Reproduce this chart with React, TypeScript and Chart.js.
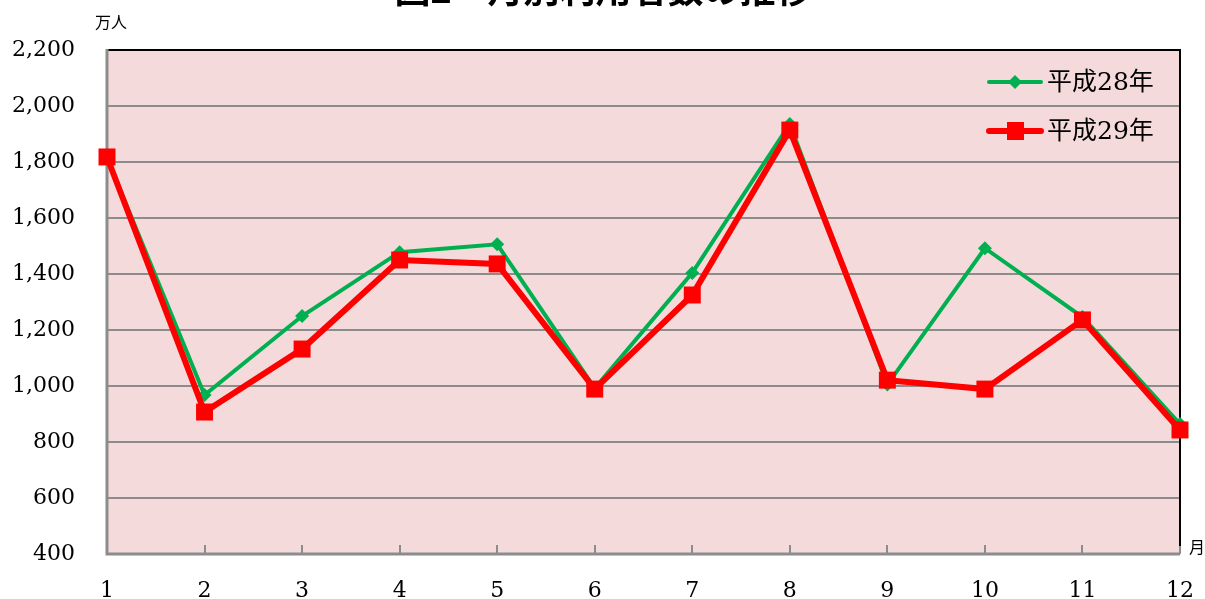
import React, { useEffect, useRef } from "react";
import { Chart, registerables } from "chart.js";

Chart.register(...registerables);

const months = ["1", "2", "3", "4", "5", "6", "7", "8", "9", "10", "11", "12"];
const seriesH28 = [1815, 968, 1250, 1478, 1506, 992, 1404, 1936, 1005, 1492, 1246, 864];
const seriesH29 = [1818, 907, 1132, 1450, 1436, 989, 1325, 1914, 1021, 989, 1236, 843];
const seriesNames = ["平成28年", "平成29年"];
const titleText = "図2　月別利用者数の推移";
const yUnit = "万人";
const xUnit = "月";

const GREEN = "#00B050";
const RED = "#FF0000";
const PINK = "#F5DADB";
const GRID = "#8C8C8C";
const SERIF = "'DejaVu Serif', 'Noto Sans CJK JP', serif";

const decorPlugin = {
  id: "decor",
  beforeDraw(chart: any) {
    const { ctx, chartArea: a } = chart;
    ctx.save();
    ctx.fillStyle = PINK;
    ctx.fillRect(a.left, a.top, a.right - a.left, a.bottom - a.top);
    ctx.restore();
  },
  beforeDatasetsDraw(chart: any) {
    const { ctx, chartArea: a, scales } = chart;
    ctx.save();
    ctx.strokeStyle = GRID;
    ctx.lineWidth = 2;
    const xs = scales.x;
    for (let i = 0; i < months.length; i++) {
      const x = Math.round(xs.getPixelForValue(i));
      ctx.beginPath();
      ctx.moveTo(x, a.bottom);
      ctx.lineTo(x, a.bottom - 9);
      ctx.stroke();
    }
    ctx.strokeStyle = "#000";
    ctx.lineWidth = 2;
    ctx.beginPath();
    ctx.moveTo(a.left, a.top);
    ctx.lineTo(a.right, a.top);
    ctx.lineTo(a.right, a.bottom - 8);
    ctx.stroke();
    ctx.strokeStyle = GRID;
    ctx.lineWidth = 3;
    ctx.beginPath();
    ctx.moveTo(a.left, a.top - 1);
    ctx.lineTo(a.left, a.bottom);
    ctx.lineTo(a.right, a.bottom);
    ctx.stroke();
    ctx.restore();
  },
  afterDraw(chart: any) {
    const { ctx } = chart;
    ctx.save();
    ctx.fillStyle = "#000";
    ctx.font = "bold 36px 'Noto Sans CJK JP', sans-serif";
    ctx.textAlign = "center";
    ctx.textBaseline = "alphabetic";
    ctx.fillText(titleText, 603, 3);
    ctx.font = "16px 'Noto Sans CJK JP', sans-serif";
    ctx.textAlign = "left";
    ctx.textBaseline = "middle";
    ctx.fillText(yUnit, 95, 22);
    ctx.fillText(xUnit, 1189, 547);
    const items = [
      { name: seriesNames[0], color: GREEN, lw: 4, y: 82, style: "diamond" },
      { name: seriesNames[1], color: RED, lw: 6, y: 131, style: "square" },
    ];
    for (const it of items) {
      ctx.strokeStyle = it.color;
      ctx.fillStyle = it.color;
      ctx.lineWidth = it.lw;
      ctx.lineCap = "round";
      ctx.beginPath();
      ctx.moveTo(989, it.y);
      ctx.lineTo(1041, it.y);
      ctx.stroke();
      if (it.style === "diamond") {
        ctx.beginPath();
        ctx.moveTo(1015, it.y - 7);
        ctx.lineTo(1022, it.y);
        ctx.lineTo(1015, it.y + 7);
        ctx.lineTo(1008, it.y);
        ctx.closePath();
        ctx.fill();
      } else {
        ctx.fillRect(1007, it.y - 9, 17, 18);
      }
      ctx.fillStyle = "#000";
      ctx.font = "25px " + SERIF;
      ctx.textAlign = "left";
      ctx.textBaseline = "middle";
      ctx.fillText(it.name, 1047, it.y + 1);
    }
    ctx.restore();
  },
};

export default function App() {
  const ref = useRef<HTMLCanvasElement>(null);
  useEffect(() => {
    if (!ref.current) return;
    const chart = new Chart(ref.current, {
      type: "line",
      data: {
        labels: months,
        datasets: [
          {
            label: seriesNames[0],
            data: seriesH28,
            borderColor: GREEN,
            backgroundColor: GREEN,
            borderWidth: 4,
            pointStyle: "rectRot",
            pointRadius: 7,
            pointBorderWidth: 0,
            tension: 0,
            order: 1,
            clip: false as any,
          },
          {
            label: seriesNames[1],
            data: seriesH29,
            borderColor: RED,
            backgroundColor: RED,
            borderWidth: 6,
            pointStyle: "rect",
            pointRadius: 12,
            pointBorderWidth: 0,
            tension: 0,
            order: 0,
            clip: false as any,
          },
        ],
      },
      options: {
        responsive: false,
        animation: false,
        layout: { padding: { left: 0, top: 50, right: 25, bottom: 0 } },
        plugins: {
          legend: { display: false },
          tooltip: { enabled: false },
          title: { display: false },
        },
        scales: {
          x: {
            type: "category",
            offset: false,
            grid: { display: false, drawTicks: false },
            border: { display: false },
            ticks: {
              color: "#000",
              padding: 24,
              maxRotation: 0,
              autoSkip: false,
              font: { family: SERIF, size: 22 },
            },
            afterFit(scale: any) {
              scale.height = 45;
              scale.paddingLeft = 0;
              scale.paddingRight = 0;
            },
          },
          y: {
            min: 400,
            max: 2200,
            grid: { color: GRID, lineWidth: 2, drawTicks: false },
            border: { display: false },
            ticks: {
              stepSize: 200,
              color: "#000",
              padding: 32,
              font: { family: SERIF, size: 22 },
              callback: (v: any) => Number(v).toLocaleString("en-US"),
            },
            afterFit(scale: any) {
              scale.width = 107;
              scale.paddingTop = 0;
              scale.paddingBottom = 0;
            },
          },
        },
      },
      plugins: [decorPlugin],
    });
    return () => chart.destroy();
  }, []);
  return (
    <div style={{ position: "fixed", left: 0, top: 0, width: 1205, height: 599, background: "#fff" }}>
      <canvas ref={ref} width={1205} height={599} style={{ display: "block" }} />
    </div>
  );
}
